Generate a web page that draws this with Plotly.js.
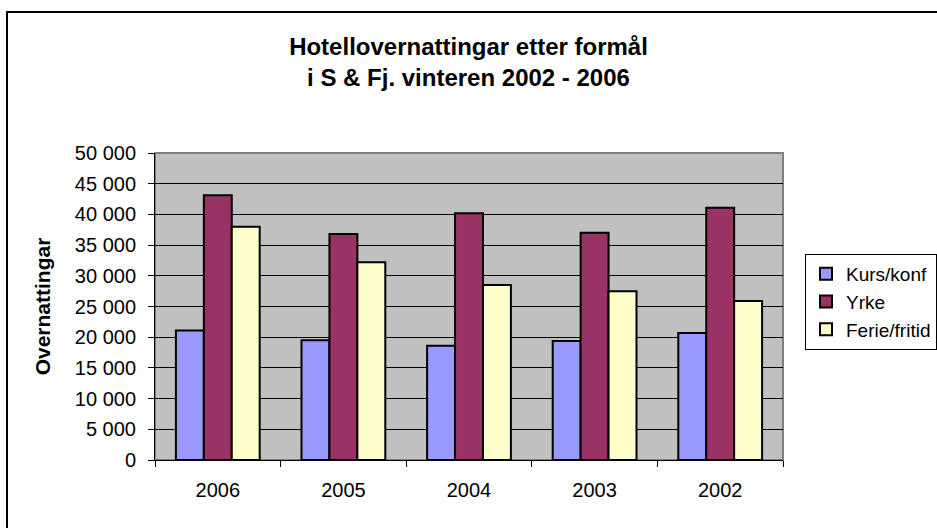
<!DOCTYPE html>
<html>
<head>
<meta charset="utf-8">
<script src="https://cdn.plot.ly/plotly-3.0.1.min.js"></script>
<style>
html,body{margin:0;padding:0;background:#fff;}
#chart{width:937px;height:528px;}
</style>
</head>
<body>
<div id="chart"></div>
<script>
const years = ["2006", "2005", "2004", "2003", "2002"];
const kursKonf = [21100, 19500, 18600, 19400, 20700];
const yrke = [43100, 36800, 40200, 37000, 41100];
const ferieFritid = [38000, 32200, 28500, 27500, 25900];
const seriesNames = ["Kurs/konf", "Yrke", "Ferie/fritid"];
const yTickVals = [0, 5000, 10000, 15000, 20000, 25000, 30000, 35000, 40000, 45000, 50000];

const colors = ["#9999FF", "#993366", "#FFFFCC"];
const font = "Liberation Sans, Arial, sans-serif";

const traces = [kursKonf, yrke, ferieFritid].map((vals, i) => ({
  type: "bar",
  name: seriesNames[i],
  x: years,
  y: vals,
  marker: {color: colors[i], line: {color: "#000", width: 2}},
  hoverinfo: "x+y+name"
}));

const L = 155, R = 154, T = 153, B = 68;
const pw = 937 - L - R, ph = 528 - T - B;
const px = v => (v - L) / pw;
const py = v => (528 - B - v) / ph;

const layout = {
  width: 937, height: 528,
  margin: {l: L, r: R, t: T, b: B, autoexpand: false},
  paper_bgcolor: "#fff",
  plot_bgcolor: "#C0C0C0",
  separators: ". ",
  font: {family: font, color: "#000", size: 18},
  title: {
    text: "<b>Hotellovernattingar etter formål<br>i S & Fj. vinteren 2002 - 2006</b>",
    font: {family: font, size: 24, color: "#000"},
    x: 0.5, xanchor: "center",
    yref: "container", y: 1 - 55 / 528, yanchor: "top"
  },
  barmode: "group",
  bargap: 0.333,
  bargroupgap: 0,
  xaxis: {
    type: "category",
    showline: true, linecolor: "#000", linewidth: 1,
    ticks: "outside", ticklen: 6, tickcolor: "#000", tickwidth: 1,
    tickson: "boundaries",
    showgrid: false,
    tickfont: {family: font, size: 20, color: "#000"},
    ticklabelstandoff: 12
  },
  yaxis: {
    range: [0, 50000],
    tickvals: yTickVals,
    tickformat: ",d",
    showline: true, linecolor: "#000", linewidth: 1,
    ticks: "outside", ticklen: 6, tickcolor: "#000", tickwidth: 1,
    showgrid: true, gridcolor: "#000", gridwidth: 1,
    zeroline: false,
    tickfont: {family: font, size: 20, color: "#000"},
    ticklabelstandoff: 8,
    title: {text: "<b>Overnattingar</b>", font: {family: font, size: 21, color: "#000"}, standoff: 18}
  },
  legend: {
    x: px(805), xanchor: "left",
    y: py(302), yanchor: "middle",
    bgcolor: "#fff", bordercolor: "#000", borderwidth: 1,
    font: {family: font, size: 19, color: "#000"},
    itemwidth: 30,
    tracegroupgap: 0
  },
  shapes: [
    {type: "rect", xref: "paper", yref: "paper", x0: 0, x1: 1, y0: 0, y1: 1,
     line: {color: "#808080", width: 2}, layer: "below"},
    {type: "path", xref: "paper", yref: "paper",
     path: `M ${px(7)},${py(540)} L ${px(7)},${py(12)} L ${px(945)},${py(12)}`,
     line: {color: "#000", width: 2}}
  ],
  showlegend: true
};

Plotly.newPlot("chart", traces, layout, {displayModeBar: false, staticPlot: true});
</script>
</body>
</html>
